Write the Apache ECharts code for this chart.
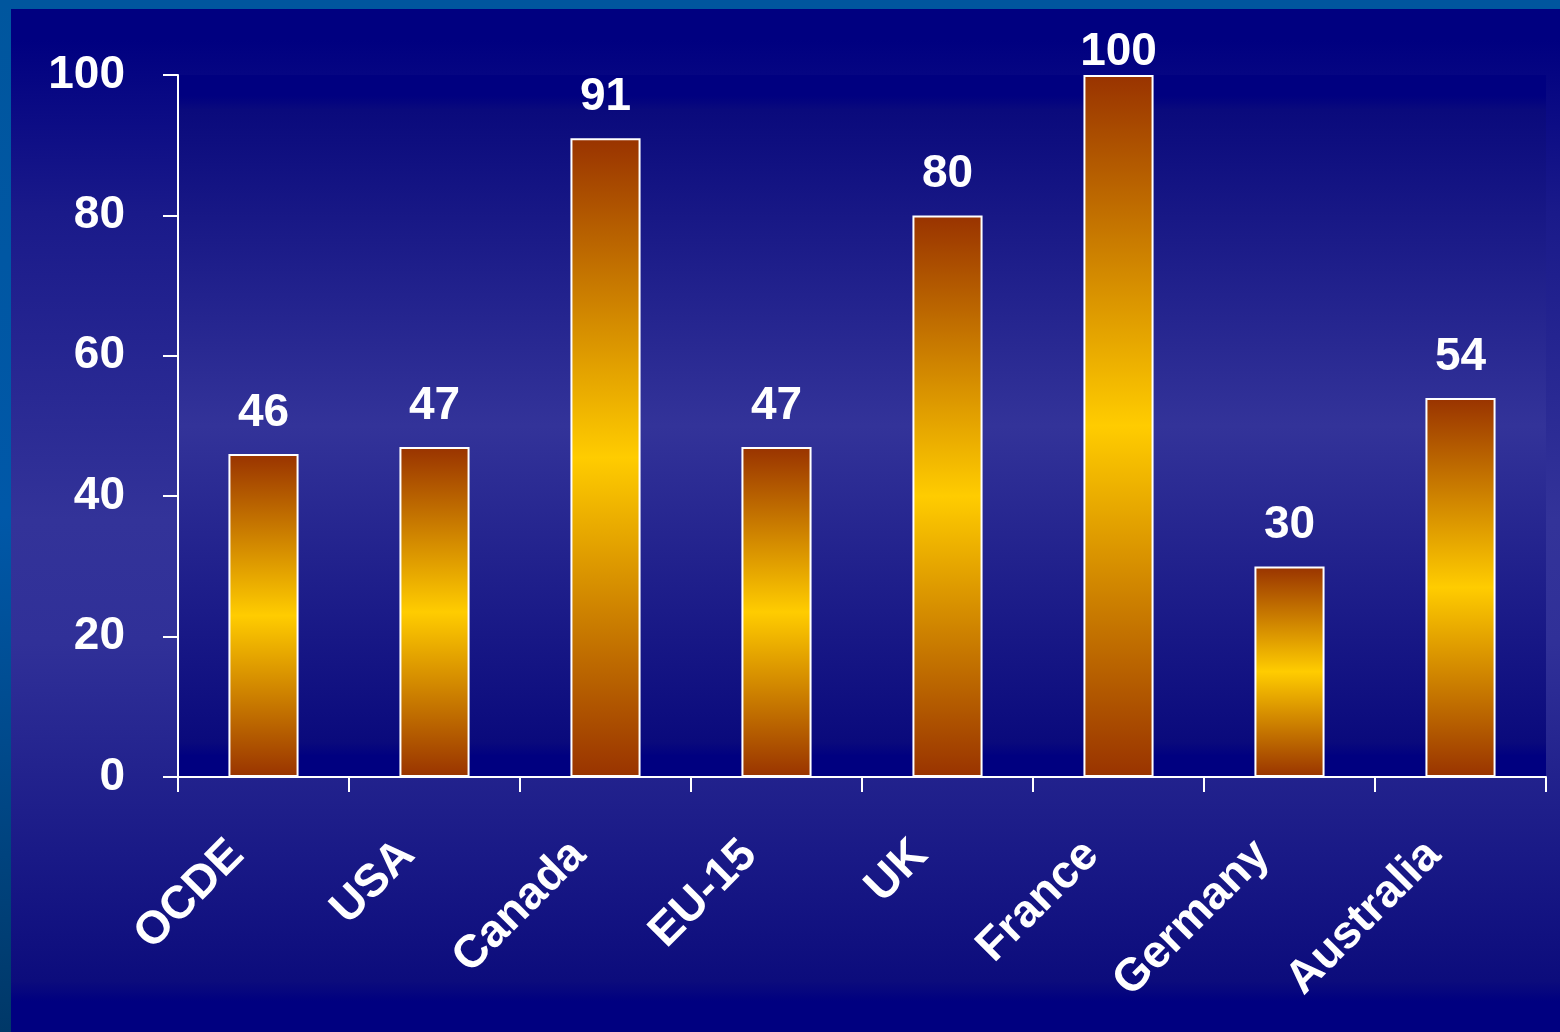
<!DOCTYPE html>
<html>
<head>
<meta charset="utf-8">
<script src="https://cdn.jsdelivr.net/npm/echarts@6/dist/echarts.min.js"></script>
<style>
  html, body { margin: 0; padding: 0; width: 1560px; height: 1032px; overflow: hidden; }
  body { background: linear-gradient(to bottom, #00569e 0%, #0058a8 50%, #003868 100%); position: relative; }
  #slide { position: absolute; left: 11px; top: 9px; width: 1549px; height: 1023px;
    background: linear-gradient(to bottom, #000080 0%, #000080 3%, #1a1a8a 20%, #333399 50%, #303098 62%, #0c0c7c 95%, #000080 97%, #000080 100%); }
  #chart { position: absolute; left: 0; top: 0; width: 1560px; height: 1032px; }
</style>
</head>
<body>
<div id="slide"></div>
<div id="chart"></div>
<script>
const categories = ['OCDE', 'USA', 'Canada', 'EU-15', 'UK', 'France', 'Germany', 'Australia'];
const values = [46, 47, 91, 47, 80, 100, 30, 54];
const yTicks = { min: 0, max: 100, interval: 20 };

const chart = echarts.init(document.getElementById('chart'), null, { renderer: 'canvas' });
const font = "'Liberation Sans', Arial, sans-serif";
const barGrad = new echarts.graphic.LinearGradient(0, 0, 0, 1, [
  { offset: 0, color: '#993300' },
  { offset: 0.5, color: '#ffcc00' },
  { offset: 1, color: '#993300' }
]);
// labels at the axis maximum sit closer to the bar (they were squeezed in the original)
const seriesData = values.map(v => v >= yTicks.max ? { value: v, label: { distance: 0 } } : v);

chart.setOption({
  backgroundColor: 'transparent',
  animation: false,
  grid: {
    left: 178, top: 75, right: 14, bottom: 255,
    show: true, borderWidth: 0,
    backgroundColor: new echarts.graphic.LinearGradient(0, 0, 0, 1, [
      { offset: 0, color: '#000080' },
      { offset: 0.03, color: '#000080' },
      { offset: 0.05, color: '#0a0a7c' },
      { offset: 0.5, color: '#333399' },
      { offset: 0.95, color: '#0a0a7c' },
      { offset: 0.97, color: '#000080' },
      { offset: 1, color: '#000080' }
    ])
  },
  xAxis: {
    type: 'category',
    data: categories,
    boundaryGap: true,
    axisLine: { lineStyle: { color: '#ffffff', width: 2 } },
    axisTick: { show: true, length: 15, lineStyle: { color: '#ffffff', width: 2 } },
    axisLabel: {
      rotate: 45, margin: 44, padding: [0, 38, 0, 0],
      color: '#ffffff', fontSize: 46, fontWeight: 'bold', fontFamily: font,
      interval: 0
    }
  },
  yAxis: {
    type: 'value',
    min: yTicks.min, max: yTicks.max, interval: yTicks.interval,
    splitLine: { show: false },
    axisLine: { show: true, lineStyle: { color: '#ffffff', width: 2 } },
    axisTick: { show: true, length: 15, lineStyle: { color: '#ffffff', width: 2 } },
    axisLabel: { margin: 53, color: '#ffffff', fontSize: 46, fontWeight: 'bold', fontFamily: font }
  },
  series: [{
    type: 'bar',
    data: seriesData,
    barWidth: '41%',
    itemStyle: { color: barGrad, borderColor: '#ffffff', borderWidth: 2 },
    label: {
      show: true, position: 'top', distance: 18,
      color: '#ffffff', fontSize: 46, fontWeight: 'bold', fontFamily: font
    }
  }]
});
</script>
</body>
</html>
